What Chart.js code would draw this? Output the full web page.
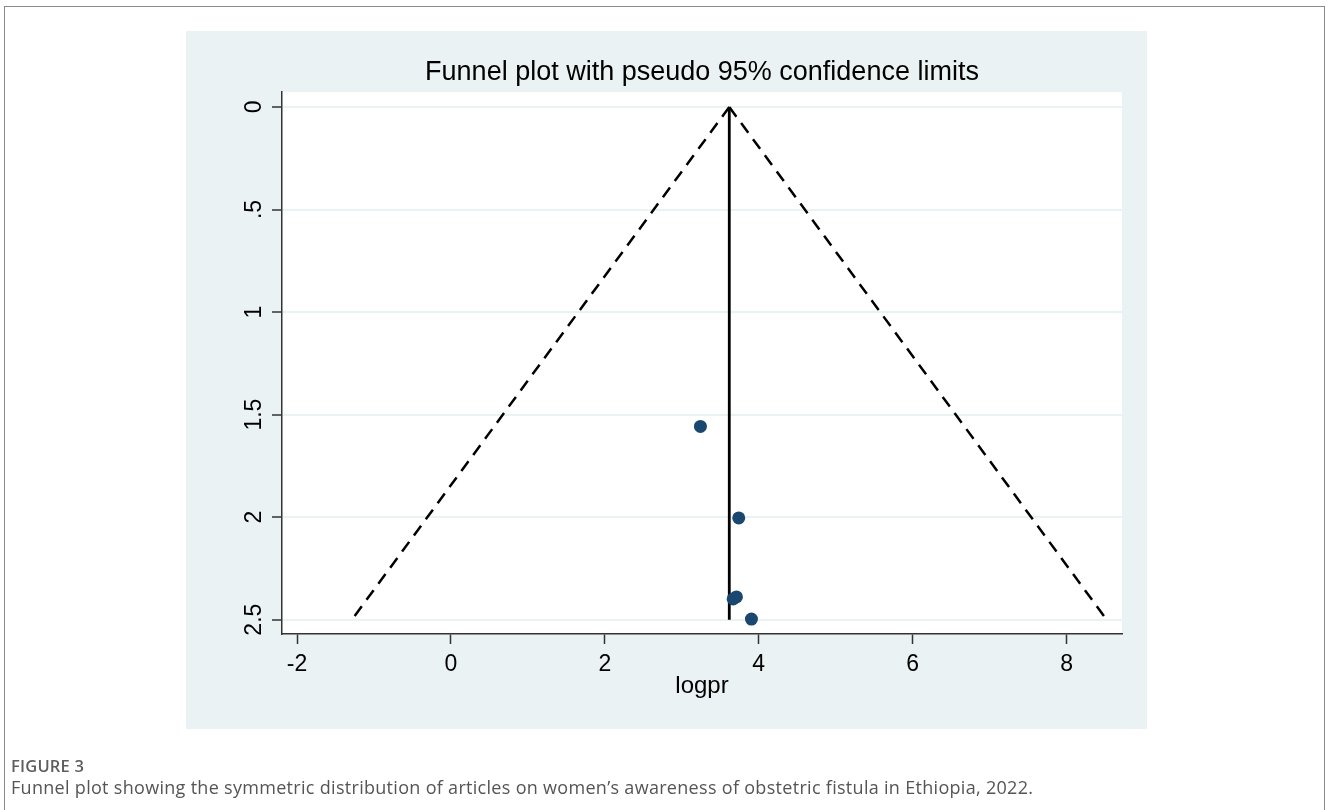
<!DOCTYPE html>
<html>
<head>
<meta charset="utf-8">
<script src="https://cdn.jsdelivr.net/npm/chart.js@4.4.1/dist/chart.umd.min.js"></script>
<style>
  html, body { margin: 0; padding: 0; width: 1328px; height: 810px; overflow: hidden; background: #fff; }
  #frame { position: absolute; left: 4px; top: 6px; width: 1321px; height: 900px; border: 1px solid #8a8a8a; box-sizing: border-box; }
  #panel { position: absolute; left: 186px; top: 31px; width: 961px; height: 698px; background: #eaf2f3; }
  #wrap { position: absolute; left: 0; top: 0; width: 1328px; height: 810px; }
  #figlabel { position: absolute; left: 11px; top: 754px; font-family: "Open Sans", sans-serif; font-size: 16.5px; font-weight: 600; color: #5e5e5e; letter-spacing: 0.2px; }
  #caption { position: absolute; left: 11px; top: 775px; font-family: "Open Sans", sans-serif; font-size: 18px; color: #555; white-space: nowrap; letter-spacing: 0.3px; }
</style>
</head>
<body>
<div id="frame"></div>
<div id="panel"></div>
<div id="wrap"><canvas id="c" width="1328" height="810"></canvas></div>
<div id="figlabel">FIGURE 3</div>
<div id="caption">Funnel plot showing the symmetric distribution of articles on women’s awareness of obstetric fistula in Ethiopia, 2022.</div>
<script>
// ---- data ----
const studyLogPr = [3.242, 3.740, 3.710, 3.667, 3.905];
const studySE    = [1.558, 2.004, 2.389, 2.399, 2.497];
const pooledLogPr = 3.617;
const seRange = [0, 2.5];
const lowerLimitX = [3.617, -1.286];
const upperLimitX = [3.617, 8.52];
const xTickValues = [-2, 0, 2, 4, 6, 8];
const yTickValues = [0, 0.5, 1, 1.5, 2, 2.5];
const yTickLabels = ['0', '.5', '1', '1.5', '2', '2.5'];
const chartTitle = 'Funnel plot with pseudo 95% confidence limits';
const xTitle = 'logpr';

const FONT = '"Liberation Sans", Arial, sans-serif';

const studies = studyLogPr.map((x, i) => ({ x: x, y: studySE[i] }));
const lowerLine = seRange.map((s, i) => ({ x: lowerLimitX[i], y: s }));
const upperLine = seRange.map((s, i) => ({ x: upperLimitX[i], y: s }));
const pooledLine = seRange.map(s => ({ x: pooledLogPr, y: s }));

const plotBg = {
  id: 'plotBg',
  beforeDraw(chart) {
    const { ctx, chartArea: a } = chart;
    ctx.save();
    ctx.fillStyle = '#ffffff';
    ctx.fillRect(a.left, a.top, a.right - a.left, a.bottom - a.top);
    ctx.restore();
  }
};

const yLabels = {
  id: 'yLabels',
  afterDraw(chart) {
    const { ctx } = chart;
    const ys = chart.scales.y;
    ctx.save();
    ctx.fillStyle = '#000';
    ctx.font = '23px ' + FONT;
    ctx.textAlign = 'center';
    ctx.textBaseline = 'middle';
    yTickValues.forEach((v, i) => {
      const py = ys.getPixelForValue(v);
      ctx.save();
      ctx.translate(ys.right - 10 - 17, py);
      ctx.rotate(-Math.PI / 2);
      ctx.fillText(yTickLabels[i], 0, 0);
      ctx.restore();
    });
    ctx.restore();
  }
};

new Chart(document.getElementById('c'), {
  type: 'scatter',
  data: {
    datasets: [
      { type: 'scatter', data: studies, pointRadius: 6.5, pointHoverRadius: 6.5,
        backgroundColor: '#1a476f', borderWidth: 0 },
      { type: 'line', data: pooledLine, borderColor: '#000', borderWidth: 2.8,
        pointRadius: 0, fill: false },
      { type: 'line', data: lowerLine, borderColor: '#000', borderWidth: 2.5,
        borderDash: [12, 8], pointRadius: 0, fill: false },
      { type: 'line', data: upperLine, borderColor: '#000', borderWidth: 2.5,
        borderDash: [12, 8], pointRadius: 0, fill: false }
    ]
  },
  options: {
    responsive: false,
    animation: false,
    events: [],
    layout: { padding: { left: 222, right: 206, top: 56, bottom: 109 } },
    plugins: {
      legend: { display: false },
      tooltip: { enabled: false },
      title: {
        display: true, text: chartTitle, fullSize: false, color: '#000',
        font: { family: FONT, size: 27, weight: 'normal' },
        padding: { top: 0, bottom: 3.6 }
      }
    },
    scales: {
      x: {
        type: 'linear', min: -2.195, max: 8.72,
        afterBuildTicks: s => { s.ticks = xTickValues.map(v => ({ value: v })); },
        afterFit: s => { s.height = 67; },
        grid: { display: true, drawOnChartArea: false, tickLength: 10, tickColor: '#333', tickWidth: 1.5 },
        border: { display: true, color: '#333', width: 1.5 },
        ticks: { color: '#000', font: { family: FONT, size: 23 }, padding: 7, maxRotation: 0,
                 callback: v => String(v) },
        title: { display: true, text: xTitle, color: '#000', font: { family: FONT, size: 24 },
                 padding: { top: 0, bottom: 0 } }
      },
      y: {
        type: 'linear', reverse: true, min: -0.073, max: 2.57,
        afterBuildTicks: s => { s.ticks = yTickValues.map(v => ({ value: v })); },
        afterFit: s => { s.width = 60; },
        grid: { color: '#eaf2f3', lineWidth: 2, tickLength: 10, tickColor: '#333', tickWidth: 1.5 },
        border: { display: true, color: '#333', width: 1.5 },
        ticks: { display: false }
      }
    }
  },
  plugins: [plotBg, yLabels]
});
</script>
</body>
</html>
